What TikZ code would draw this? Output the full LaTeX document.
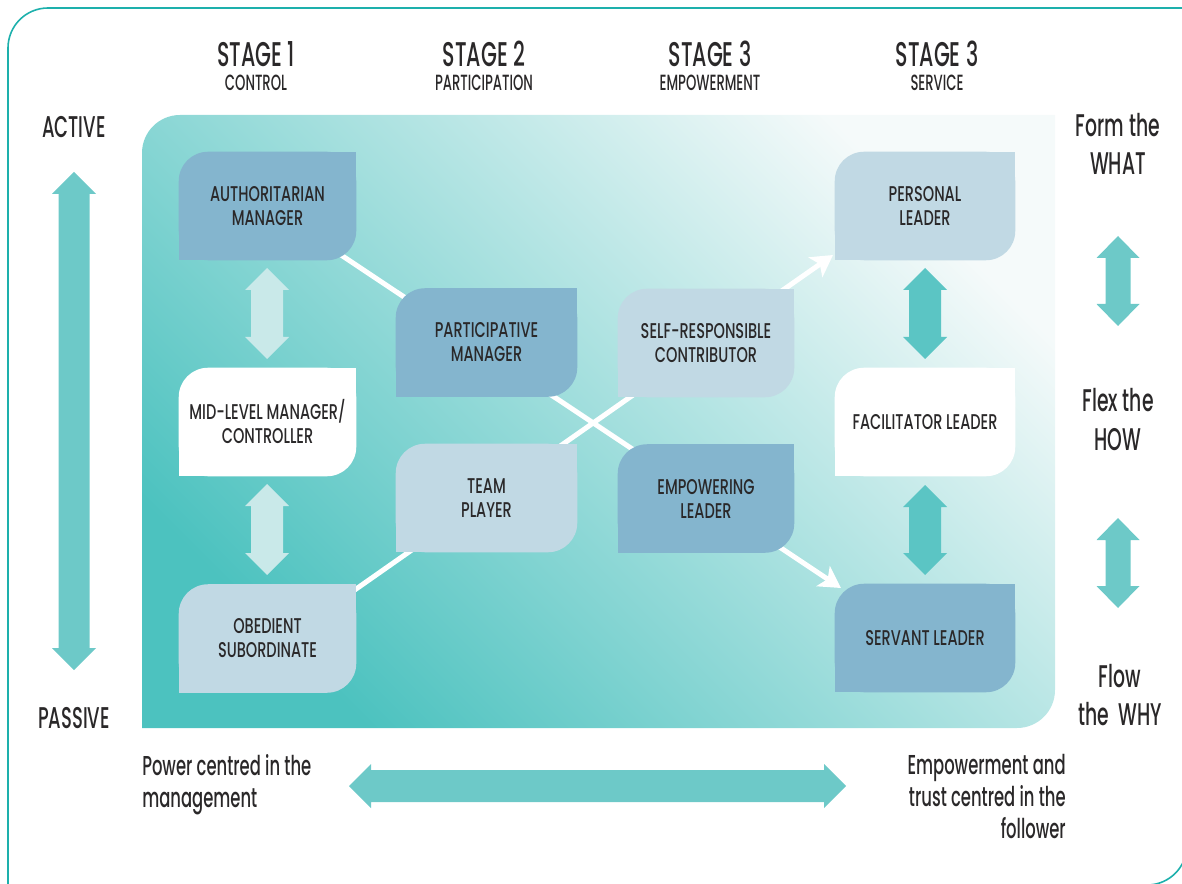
\documentclass[tikz,border=0pt]{standalone}
\usepackage{fontspec}
\setmainfont{Poppins}[FakeStretch=0.60, UprightFont={* Medium}]
\newfontfamily\leaffont{Poppins}[FakeStretch=0.68, UprightFont={* Medium}]
\usetikzlibrary{arrows.meta,backgrounds}
\definecolor{ink}{HTML}{2A2829}
\definecolor{framec}{HTML}{1DB0AC}
\definecolor{darkleaf}{HTML}{84B5CE}
\definecolor{lightleaf}{HTML}{C1D9E4}
\definecolor{paleA}{HTML}{C9E9E9}
\definecolor{tealA}{HTML}{5BC5C4}
\definecolor{tealB}{HTML}{6DC9C8}
\definecolor{panelLo}{HTML}{4CC2BF}
\definecolor{panelMid}{HTML}{98D5D4}
\definecolor{panelHi}{HTML}{F5FAFA}
\newcommand{\fs}[2]{\fontsize{#1}{#2}\selectfont}
% leaf background: top-left and bottom-right rounded
\newcommand{\leafbg}[2]{%
  \fill[#2, rounded corners=22pt] (#1.south west) rectangle (#1.north east);
  \fill[#2] (#1.north east) rectangle ([xshift=-25pt,yshift=-25pt]#1.north east);
  \fill[#2] (#1.south west) rectangle ([xshift=25pt,yshift=25pt]#1.south west);}
% vertical double block arrow: colour, xc, ytop, ybot, half shaft, half head
\newcommand{\vdarrow}[6]{%
  \fill[#1] (#2,#3) -- ({#2+#6},{#3+22}) -- ({#2+#5},{#3+22}) -- ({#2+#5},{#4-22})
    -- ({#2+#6},{#4-22}) -- (#2,#4) -- ({#2-#6},{#4-22}) -- ({#2-#5},{#4-22})
    -- ({#2-#5},{#3+22}) -- ({#2-#6},{#3+22}) -- cycle;}
% horizontal double block arrow: colour, yc, xleft, xright, half shaft, half head
\newcommand{\hdarrow}[6]{%
  \fill[#1] (#3,#2) -- ({#3+22},{#2-#6}) -- ({#3+22},{#2-#5}) -- ({#4-22},{#2-#5})
    -- ({#4-22},{#2-#6}) -- (#4,#2) -- ({#4-22},{#2+#6}) -- ({#4-22},{#2+#5})
    -- ({#3+22},{#2+#5}) -- ({#3+22},{#2+#6}) -- cycle;}
\begin{document}
\begin{tikzpicture}[x=0.75pt,y=-0.75pt,
  leaf/.style={minimum width=#1, minimum height=81pt, inner sep=0pt, align=center,
    text=ink, font=\leaffont\fs{16}{18}},
  hdr/.style={text=ink, inner sep=0pt, anchor=base},
  side/.style={text=ink, inner sep=0pt, align=center, font=\fs{23.5}{28.5}},
  foot/.style={text=ink, inner sep=0pt, font=\fs{20.5}{24}},
  wline/.style={white, line width=3.75pt, -{Stealth[length=16pt,width=18pt,inset=4pt]}}]
\useasboundingbox (0,0) rectangle (1182,884);
% outer frame
\draw[framec, line width=1.2pt] (1190,8) -- (48,8) arc (270:180:40) -- (8,885)
  -- (1147,885) arc (90:0:40) -- (1187,0);

% header
\node[hdr, font=\fs{25.7}{26}] (s1) at (256,67) {STAGE 1};
\node[hdr, font=\fs{16.5}{17}] (s1b) at (256,91) {CONTROL};
\node[hdr, font=\fs{25.7}{26}] (s2) at (484,67) {STAGE 2};
\node[hdr, font=\fs{16.5}{17}] (s2b) at (484,91) {PARTICIPATION};
\node[hdr, font=\fs{25.7}{26}] (s3) at (710,67) {STAGE 3};
\node[hdr, font=\fs{16.5}{17}] (s3b) at (710,91) {EMPOWERMENT};
\node[hdr, font=\fs{25.7}{26}] (s4) at (937,67) {STAGE 3};
\node[hdr, font=\fs{16.5}{17}] (s4b) at (937,91) {SERVICE};

% left labels
\node[hdr, font=\fs{22.5}{24}] (act) at (74,138) {ACTIVE};
\node[hdr, font=\fs{22.5}{24}] (pas) at (74,728) {PASSIVE};

% right labels (base = last line)
\node[side, anchor=base] (form) at (1118,175) {Form the\\WHAT};
\node[side, anchor=base] (flex) at (1118,450) {Flex the\\HOW};
\node[side, anchor=base] (flow) at (1120,725) {Flow\\the~ WHY};

% footer texts (base = last line)
\node[foot, align=left, anchor=base west] (pow) at (142,807) {Power centred in the\\management};
\node[foot, align=right, anchor=base east] (emt) at (1066,838) {Empowerment and\\trust centred in the\\follower};

% leaves
\node[leaf=132.75pt] (auth) at (267.5,206) {AUTHORITARIAN\\MANAGER};
\node[leaf=132.75pt] (mid)  at (267.5,422) {MID-LEVEL MANAGER/\\CONTROLLER};
\node[leaf=132.75pt] (obed) at (267.5,638.5) {OBEDIENT\\SUBORDINATE};
\node[leaf=135.75pt] (part) at (486.5,342.5) {PARTICIPATIVE\\MANAGER};
\node[leaf=135.75pt] (team) at (486.5,498) {TEAM\\PLAYER};
\node[leaf=132pt] (self) at (706,343) {SELF-RESPONSIBLE\\CONTRIBUTOR};
\node[leaf=132pt] (emp)  at (706,498.5) {EMPOWERING\\LEADER};
\node[leaf=135pt] (pers) at (925,206) {PERSONAL\\LEADER};
\node[leaf=135pt] (fac)  at (925,422) {FACILITATOR LEADER};
\node[leaf=135pt] (serv) at (925,638) {SERVANT LEADER};

\coordinate (tipP) at (833,255);
\coordinate (tipS) at (841,588);

\begin{pgfonlayer}{background}
  \shade[top color=panelHi, middle color=panelMid, bottom color=panelLo, shading angle=-45]
    (1055,115) -- (180,115) arc (270:180:38) -- (142,728) -- (1017,728) arc (90:0:38) -- cycle;
  \draw[wline] (auth.center) -- (tipS);
  \draw[wline] ([yshift=-9.4pt]obed.center) -- (tipP);
  \leafbg{auth}{darkleaf}
  \leafbg{mid}{white}
  \leafbg{obed}{lightleaf}
  \leafbg{part}{darkleaf}
  \leafbg{team}{lightleaf}
  \leafbg{self}{lightleaf}
  \leafbg{emp}{darkleaf}
  \leafbg{pers}{lightleaf}
  \leafbg{fac}{white}
  \leafbg{serv}{darkleaf}
\end{pgfonlayer}

% block arrows
\vdarrow{paleA}{267}{268}{359}{16}{22}
\vdarrow{paleA}{267}{484}{575}{16}{22}
\vdarrow{tealA}{925}{268}{359}{16}{22}
\vdarrow{tealA}{925}{485}{575}{16}{22}
\vdarrow{tealB}{1118}{236}{326}{12.5}{21.5}
\vdarrow{tealB}{1118}{518}{608}{12.5}{21.5}
\vdarrow{tealB}{74}{172}{670}{15.5}{22}
\hdarrow{tealB}{786}{349}{846}{16}{22}
\end{tikzpicture}
\end{document}
